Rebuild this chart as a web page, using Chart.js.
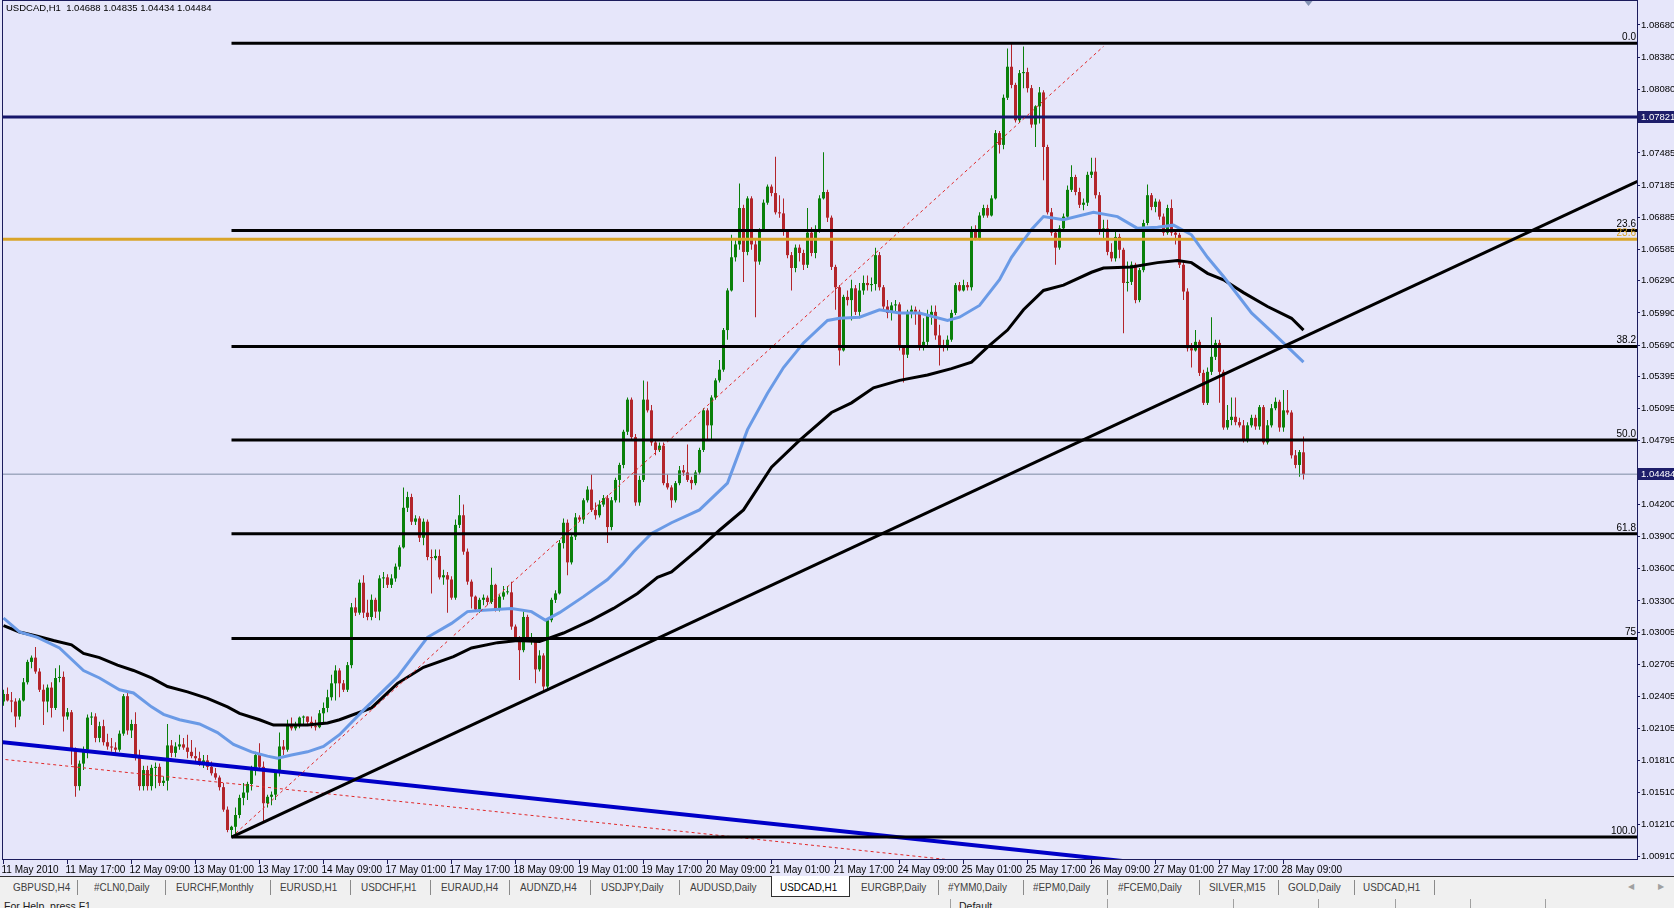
<!DOCTYPE html>
<html><head><meta charset="utf-8">
<script src="https://cdn.jsdelivr.net/npm/chart.js@4.4.1/dist/chart.umd.min.js"></script>
<style>
html,body{margin:0;padding:0;width:1674px;height:908px;overflow:hidden;background:#e6e6fa;font-family:'Liberation Sans',Arial,sans-serif;}
#wrap{position:absolute;left:0;top:0;width:1674px;height:877px;}
#hdr{position:absolute;left:6px;top:2px;font-size:9.5px;color:#000;white-space:pre;}
#tabs{position:absolute;left:0;top:876px;width:1674px;height:22px;background:#f0f0f0;border-top:1px solid #303030;box-sizing:border-box;}
.tab{position:absolute;top:4px;font-size:11px;color:#404040;white-space:pre;transform:scaleX(0.9);transform-origin:0 0;}
.sep{position:absolute;top:3px;width:1px;height:15px;background:#8a8a8a;}
#active{position:absolute;top:-1px;height:21px;background:#fff;border:1px solid #303030;border-top:none;box-sizing:border-box;}
.arr{position:absolute;top:5px;font-size:8px;color:#a0a0a0;}
#status{position:absolute;left:0;top:898px;width:1674px;height:10px;background:#f0f0f0;overflow:hidden;}
.st{position:absolute;top:2px;font-size:10.5px;color:#202020;white-space:pre;}
.stsep{position:absolute;top:1px;width:1px;height:9px;background:#a0a0a0;}
</style></head><body>
<div id="wrap"><canvas id="c" width="1674" height="877"></canvas></div>
<div id="hdr">USDCAD,H1  1.04688 1.04835 1.04434 1.04484</div>
<div id="tabs"></div>
<div id="status"></div>
<script>
// ---------- DATA ----------
const xLabels = ["11 May 2010","11 May 17:00","12 May 09:00","13 May 01:00","13 May 17:00","14 May 09:00","17 May 01:00","17 May 17:00","18 May 09:00","19 May 01:00","19 May 17:00","20 May 09:00","21 May 01:00","21 May 17:00","24 May 09:00","25 May 01:00","25 May 17:00","26 May 09:00","27 May 01:00","27 May 17:00","28 May 09:00"];
const xTickIdx = [0,16,32,48,64,80,96,112,128,144,160,176,192,208,224,240,256,272,288,304,320];
const yTicks = [1.0868,1.0838,1.0808,1.07485,1.07185,1.06885,1.06585,1.0629,1.0599,1.0569,1.05395,1.05095,1.04795,1.042,1.039,1.036,1.033,1.03005,1.02705,1.02405,1.02105,1.0181,1.0151,1.0121,1.0091];

const opens = [
1.0236,1.0243,1.0237,1.0236,1.0222,1.0237,1.0254,1.0273,1.0277,1.0264,1.0247,1.0236,1.0249,1.0230,1.0258,1.0259,1.0222,1.0226,1.0191,1.0157,
1.0178,1.0191,1.0221,1.0222,1.0202,1.0213,1.0198,1.0194,1.0193,1.0191,1.0206,1.0241,1.0209,1.0215,1.0185,1.0157,1.0172,1.0157,1.0174,1.0175,
1.0160,1.0162,1.0195,1.0188,1.0194,1.0196,1.0193,1.0189,1.0185,1.0183,1.0178,1.0181,1.0175,1.0169,1.0165,1.0156,1.0135,1.0116,1.0119,1.0130,
1.0146,1.0151,1.0159,1.0172,1.0186,1.0175,1.0141,1.0147,1.0149,1.0170,1.0194,1.0191,1.0214,1.0211,1.0213,1.0221,1.0222,1.0217,1.0213,1.0212,
1.0225,1.0230,1.0240,1.0253,1.0265,1.0253,1.0247,1.0270,1.0324,1.0319,1.0347,1.0319,1.0315,1.0331,1.0320,1.0351,1.0352,1.0345,1.0351,1.0362,
1.0380,1.0417,1.0427,1.0404,1.0407,1.0389,1.0404,1.0371,1.0370,1.0372,1.0352,1.0354,1.0350,1.0333,1.0401,1.0410,1.0376,1.0348,1.0334,1.0322,
1.0331,1.0333,1.0329,1.0345,1.0322,1.0334,1.0338,1.0338,1.0306,1.0294,1.0284,1.0315,1.0294,1.0294,1.0266,1.0279,1.0250,1.0312,1.0331,1.0337,
1.0384,1.0403,1.0366,1.0390,1.0408,1.0406,1.0424,1.0434,1.0415,1.0410,1.0420,1.0426,1.0399,1.0424,1.0443,1.0457,1.0488,1.0518,1.0483,1.0422,
1.0443,1.0518,1.0508,1.0478,1.0471,1.0475,1.0440,1.0436,1.0424,1.0440,1.0452,1.0450,1.0443,1.0440,1.0450,1.0471,1.0508,1.0494,1.0520,1.0536,
1.0546,1.0583,1.0620,1.0651,1.0663,1.0697,1.0656,1.0706,1.0663,1.0647,1.0677,1.0702,1.0717,1.0711,1.0693,1.0692,1.0675,1.0653,1.0641,1.0660,
1.0655,1.0644,1.0674,1.0655,1.0677,1.0706,1.0712,1.0688,1.0642,1.0623,1.0564,1.0614,1.0611,1.0622,1.0600,1.0620,1.0627,1.0625,1.0626,1.0653,
1.0623,1.0605,1.0599,1.0606,1.0607,1.0567,1.0560,1.0600,1.0602,1.0600,1.0567,1.0572,1.0597,1.0600,1.0578,1.0569,1.0567,1.0574,1.0599,1.0625,
1.0620,1.0625,1.0623,1.0677,1.0669,1.0690,1.0697,1.0690,1.0706,1.0767,1.0756,1.0800,1.0829,1.0812,1.0779,1.0823,1.0824,1.0809,1.0775,1.0792,
1.0805,1.0754,1.0693,1.0674,1.0660,1.0678,1.0689,1.0714,1.0726,1.0712,1.0700,1.0702,1.0728,1.0731,1.0709,1.0675,1.0678,1.0656,1.0650,1.0670,
1.0658,1.0627,1.0628,1.0644,1.0611,1.0639,1.0683,1.0709,1.0698,1.0703,1.0689,1.0674,1.0697,1.0674,1.0672,1.0644,1.0619,1.0566,1.0564,1.0572,
1.0543,1.0515,1.0544,1.0558,1.0571,1.0544,1.0492,1.0499,1.0502,1.0497,1.0494,1.0480,1.0494,1.0501,1.0493,1.0511,1.0478,1.0494,1.0510,1.0516,
1.0492,1.0508,1.0506,1.0466,1.0457,1.04688];
const highs = [
1.0247,1.0249,1.0245,1.0239,1.0239,1.0258,1.0275,1.0279,1.0287,1.0267,1.0252,1.0252,1.0254,1.0267,1.0270,1.0264,1.0230,1.0228,1.0193,1.0181,
1.0194,1.0224,1.0226,1.0225,1.0217,1.0219,1.0206,1.0202,1.0198,1.0209,1.0243,1.0245,1.0219,1.0226,1.0191,1.0176,1.0176,1.0177,1.0179,1.0178,
1.0166,1.0215,1.0200,1.0198,1.0205,1.0202,1.0205,1.0200,1.0193,1.0189,1.0186,1.0186,1.0180,1.0174,1.0167,1.0160,1.0138,1.0120,1.0137,1.0149,
1.0160,1.0161,1.0176,1.0189,1.0197,1.0180,1.0149,1.0152,1.0172,1.0207,1.0200,1.0219,1.0221,1.0217,1.0222,1.0223,1.0222,1.0222,1.0219,1.0228,
1.0235,1.0247,1.0261,1.0270,1.0267,1.0256,1.0273,1.0328,1.0333,1.0350,1.0354,1.0331,1.0336,1.0333,1.0354,1.0357,1.0355,1.0355,1.0365,1.0382,
1.0436,1.0432,1.0430,1.0410,1.0409,1.0407,1.0406,1.0378,1.0378,1.0378,1.0359,1.0357,1.0353,1.0406,1.0429,1.0420,1.0379,1.0350,1.0335,1.0333,
1.0336,1.0335,1.0361,1.0346,1.0336,1.0344,1.0344,1.0348,1.0308,1.0297,1.0320,1.0317,1.0300,1.0295,1.0284,1.0281,1.0314,1.0333,1.0340,1.0387,
1.0407,1.0406,1.0393,1.0412,1.0410,1.0426,1.0437,1.0448,1.0422,1.0424,1.0429,1.0429,1.0427,1.0445,1.0459,1.0490,1.0520,1.0520,1.0486,1.0447,
1.0536,1.0535,1.0513,1.0480,1.0478,1.0478,1.0448,1.0438,1.0442,1.0456,1.0457,1.0476,1.0446,1.0452,1.0473,1.0510,1.0510,1.0522,1.0538,1.0555,
1.0585,1.0622,1.0672,1.0669,1.0720,1.0700,1.0708,1.0708,1.0669,1.0678,1.0705,1.0719,1.0719,1.0745,1.0709,1.0706,1.0677,1.0656,1.0663,1.0663,
1.0658,1.0697,1.0679,1.0681,1.0709,1.0749,1.0714,1.0690,1.0644,1.0625,1.0616,1.0620,1.0630,1.0625,1.0627,1.0634,1.0634,1.0632,1.0660,1.0656,
1.0625,1.0611,1.0609,1.0611,1.0609,1.0569,1.0602,1.0606,1.0605,1.0602,1.0594,1.0602,1.0606,1.0606,1.0588,1.0574,1.0578,1.0602,1.0627,1.0628,
1.0630,1.0628,1.0680,1.0681,1.0693,1.0700,1.0700,1.0709,1.0770,1.0769,1.0803,1.0846,1.0851,1.0814,1.0826,1.0848,1.0828,1.0812,1.0793,1.0810,
1.0807,1.0756,1.0697,1.0675,1.0681,1.0692,1.0718,1.0737,1.0728,1.0716,1.0706,1.0731,1.0744,1.0744,1.0712,1.0686,1.0686,1.0664,1.0675,1.0673,
1.0660,1.0647,1.0647,1.0646,1.0641,1.0686,1.0719,1.0711,1.0706,1.0705,1.0692,1.0700,1.0705,1.0677,1.0674,1.0647,1.0622,1.0571,1.0583,1.0574,
1.0546,1.0548,1.0595,1.0574,1.0574,1.0546,1.0513,1.0520,1.0520,1.0501,1.0499,1.0497,1.0504,1.0504,1.0513,1.0513,1.0499,1.0514,1.0520,1.0518,
1.0527,1.0527,1.0508,1.0471,1.0471,1.04835];
const lows = [
1.0232,1.0236,1.0226,1.0212,1.0219,1.0236,1.0252,1.0267,1.0262,1.0245,1.0214,1.0226,1.0221,1.0228,1.0254,1.0208,1.0219,1.0177,1.0147,1.0153,
1.0172,1.0183,1.0214,1.0198,1.0198,1.0195,1.0191,1.0189,1.0186,1.0189,1.0204,1.0205,1.0202,1.0181,1.0153,1.0153,1.0153,1.0153,1.0155,1.0157,
1.0157,1.0153,1.0184,1.0184,1.0191,1.0191,1.0183,1.0183,1.0180,1.0176,1.0174,1.0172,1.0167,1.0163,1.0153,1.0133,1.0114,1.0109,1.0111,1.0127,
1.0139,1.0144,1.0153,1.0167,1.0172,1.0123,1.0137,1.0139,1.0144,1.0166,1.0186,1.0189,1.0209,1.0209,1.0211,1.0215,1.0215,1.0211,1.0209,1.0211,
1.0216,1.0226,1.0237,1.0237,1.0240,1.0245,1.0245,1.0267,1.0316,1.0317,1.0314,1.0312,1.0312,1.0314,1.0312,1.0342,1.0342,1.0342,1.0348,1.0359,
1.0379,1.0413,1.0401,1.0401,1.0385,1.0382,1.0368,1.0337,1.0368,1.0350,1.0345,1.0319,1.0331,1.0331,1.0398,1.0373,1.0345,1.0323,1.0320,1.0319,
1.0326,1.0326,1.0327,1.0320,1.0320,1.0331,1.0336,1.0303,1.0292,1.0256,1.0282,1.0292,1.0289,1.0253,1.0264,1.0245,1.0247,1.0310,1.0328,1.0336,
1.0379,1.0354,1.0364,1.0387,1.0404,1.0402,1.0422,1.0413,1.0406,1.0408,1.0418,1.0384,1.0396,1.0422,1.0422,1.0454,1.0485,1.0480,1.0419,1.0419,
1.0441,1.0506,1.0475,1.0466,1.0469,1.0438,1.0434,1.0417,1.0422,1.0438,1.0447,1.0441,1.0434,1.0438,1.0448,1.0469,1.0480,1.0480,1.0518,1.0534,
1.0544,1.0574,1.0619,1.0647,1.0658,1.0628,1.0653,1.0658,1.0595,1.0644,1.0675,1.0700,1.0708,1.0691,1.0688,1.0671,1.0650,1.0620,1.0637,1.0647,
1.0639,1.0641,1.0652,1.0650,1.0674,1.0705,1.0684,1.0639,1.0602,1.0550,1.0563,1.0606,1.0592,1.0597,1.0594,1.0616,1.0620,1.0619,1.0620,1.0620,
1.0602,1.0594,1.0592,1.0600,1.0564,1.0534,1.0557,1.0594,1.0588,1.0564,1.0564,1.0569,1.0588,1.0574,1.0550,1.0563,1.0564,1.0572,1.0597,1.0619,
1.0619,1.0620,1.0620,1.0667,1.0667,1.0688,1.0688,1.0689,1.0705,1.0748,1.0752,1.0798,1.0809,1.0777,1.0777,1.0809,1.0805,1.0772,1.0754,1.0776,
1.0723,1.0691,1.0671,1.0644,1.0658,1.0675,1.0686,1.0712,1.0709,1.0697,1.0695,1.0699,1.0725,1.0706,1.0672,1.0669,1.0653,1.0647,1.0647,1.0650,
1.0580,1.0619,1.0625,1.0608,1.0609,1.0637,1.0681,1.0695,1.0693,1.0686,1.0671,1.0672,1.0671,1.0663,1.0641,1.0611,1.0563,1.0548,1.0563,1.0540,
1.0513,1.0513,1.0541,1.0555,1.0515,1.0490,1.0490,1.0494,1.0494,1.0492,1.0478,1.0478,1.0492,1.0490,1.0490,1.0476,1.0476,1.0492,1.0508,1.0488,
1.0488,1.0504,1.0463,1.0454,1.0446,1.04434];
const closes = [
1.0243,1.0237,1.0236,1.0222,1.0237,1.0254,1.0273,1.0277,1.0264,1.0247,1.0236,1.0249,1.0230,1.0258,1.0259,1.0222,1.0226,1.0191,1.0157,1.0178,
1.0191,1.0221,1.0222,1.0202,1.0213,1.0198,1.0194,1.0193,1.0191,1.0206,1.0241,1.0209,1.0215,1.0185,1.0157,1.0172,1.0157,1.0174,1.0175,1.0160,
1.0162,1.0195,1.0188,1.0194,1.0196,1.0193,1.0189,1.0185,1.0183,1.0178,1.0181,1.0175,1.0169,1.0165,1.0156,1.0135,1.0116,1.0119,1.0130,1.0146,
1.0151,1.0159,1.0172,1.0186,1.0175,1.0141,1.0147,1.0149,1.0170,1.0194,1.0191,1.0214,1.0211,1.0213,1.0221,1.0222,1.0217,1.0213,1.0212,1.0225,
1.0230,1.0240,1.0253,1.0265,1.0253,1.0247,1.0270,1.0324,1.0319,1.0347,1.0319,1.0315,1.0331,1.0320,1.0351,1.0352,1.0345,1.0351,1.0362,1.0380,
1.0417,1.0427,1.0404,1.0407,1.0389,1.0404,1.0371,1.0370,1.0372,1.0352,1.0354,1.0350,1.0333,1.0401,1.0410,1.0376,1.0348,1.0334,1.0322,1.0331,
1.0333,1.0329,1.0345,1.0322,1.0334,1.0338,1.0338,1.0306,1.0294,1.0284,1.0315,1.0294,1.0294,1.0266,1.0279,1.0250,1.0312,1.0331,1.0337,1.0384,
1.0403,1.0366,1.0390,1.0408,1.0406,1.0424,1.0434,1.0415,1.0410,1.0420,1.0426,1.0399,1.0424,1.0443,1.0457,1.0488,1.0518,1.0483,1.0422,1.0443,
1.0518,1.0508,1.0478,1.0471,1.0475,1.0440,1.0436,1.0424,1.0440,1.0452,1.0450,1.0443,1.0440,1.0450,1.0471,1.0508,1.0494,1.0520,1.0536,1.0546,
1.0583,1.0620,1.0651,1.0663,1.0697,1.0656,1.0706,1.0663,1.0647,1.0677,1.0702,1.0717,1.0711,1.0693,1.0692,1.0675,1.0653,1.0641,1.0660,1.0655,
1.0644,1.0674,1.0655,1.0677,1.0706,1.0712,1.0688,1.0642,1.0623,1.0564,1.0614,1.0611,1.0622,1.0600,1.0620,1.0627,1.0625,1.0626,1.0653,1.0623,
1.0605,1.0599,1.0606,1.0607,1.0567,1.0560,1.0600,1.0602,1.0600,1.0567,1.0572,1.0597,1.0600,1.0578,1.0569,1.0567,1.0574,1.0599,1.0625,1.0620,
1.0625,1.0623,1.0677,1.0669,1.0690,1.0697,1.0690,1.0706,1.0767,1.0756,1.0800,1.0829,1.0812,1.0779,1.0823,1.0824,1.0809,1.0775,1.0792,1.0805,
1.0754,1.0693,1.0674,1.0660,1.0678,1.0689,1.0714,1.0726,1.0712,1.0700,1.0702,1.0728,1.0731,1.0709,1.0675,1.0678,1.0656,1.0650,1.0670,1.0658,
1.0627,1.0628,1.0644,1.0611,1.0639,1.0683,1.0709,1.0698,1.0703,1.0689,1.0674,1.0697,1.0674,1.0672,1.0644,1.0619,1.0566,1.0564,1.0572,1.0543,
1.0515,1.0544,1.0558,1.0571,1.0544,1.0492,1.0499,1.0502,1.0497,1.0494,1.0480,1.0494,1.0501,1.0493,1.0511,1.0478,1.0494,1.0510,1.0516,1.0492,
1.0508,1.0506,1.0466,1.0457,1.0469,1.04484];

// moving averages (bar index, price)
const maFastIdx = [0,4,8.5,14,20,24,29,32.5,37,40,44,49,53.5,57.5,62,66,68.5,72,76,80,84,90,98.5,106,112,116,119,127,132,135.5,139,145,151,155,157.5,162,167,174,181,186,191,195,200,206,209,214,219,224,229,236,239,244,249,252,257,260,265,272.5,278.5,283.5,288.5,292.5,297,301,305,312,317.5,325];
const maFastVal = [1.0314,1.0301,1.0296,1.0286,1.0265,1.0258,1.0247,1.0244,1.0231,1.0224,1.0219,1.0215,1.0207,1.0196,1.0189,1.0185,1.0183,1.0186,1.0189,1.0194,1.0205,1.0228,1.0259,1.0296,1.0309,1.0320,1.0321,1.0323,1.0320,1.0312,1.0319,1.0334,1.0350,1.0365,1.0376,1.0393,1.0403,1.0415,1.0440,1.0490,1.0524,1.0548,1.0571,1.0592,1.0594,1.0595,1.0602,1.0599,1.0599,1.0592,1.0595,1.0606,1.0630,1.0651,1.0677,1.0689,1.0686,1.0693,1.0689,1.0678,1.0679,1.0681,1.0672,1.0651,1.0633,1.0599,1.0580,1.0553];
const maSlowIdx = [0,4,8.5,12.5,17,20,24,28.5,32.5,37,41,46,51,56,59,64,67.5,72,76,81,84,92,98.5,105,112.5,117,123.5,128.5,134,140,147,152.5,158.5,163.5,167,174,179,185,192,199,207,212,217.5,224,231,237,242,246,251,255,260,265,272,275,282,288.5,293.5,297,301,305,310,316,322,325];
const maSlowVal = [1.0307,1.0301,1.0297,1.0293,1.0289,1.0281,1.0277,1.0270,1.0265,1.0258,1.0250,1.0245,1.0239,1.0231,1.0225,1.0219,1.0214,1.0214,1.0214,1.0216,1.0219,1.0230,1.0253,1.0268,1.0278,1.0286,1.0291,1.0293,1.0292,1.0300,1.0312,1.0323,1.0337,1.0352,1.0357,1.0379,1.0396,1.0415,1.0455,1.0480,1.0506,1.0515,1.0529,1.0536,1.0541,1.0547,1.0553,1.0567,1.0583,1.0602,1.0620,1.0625,1.0637,1.0641,1.0642,1.0646,1.0648,1.0646,1.0636,1.0630,1.0618,1.0605,1.0594,1.0583];

// Fibonacci retracement (anchored at bar 57 low)
const fibLevels = [1.08509,1.06759,1.05676,1.04802,1.03927,1.02948,1.01094];
const fibLabels = ["0.0","23.6","38.2","50.0","61.8","75","100.0"];
const fibStartIdx = 57;
const orangeFibLevel = 1.06678, orangeFibLabel = "23.6";
// horizontal lines
const navyLevel = 1.07821;
const bidLevel = 1.04484;
// trend lines: [startIdx, startPrice, endIdx, endPrice]
const trendBlack = [57, 1.01094, 408.5, 1.0722];
const trendRedUp = [57, 1.01094, 275, 1.0848];
const trendRedDown = [-1, 1.01824, 260, 1.00788];
const trendBlue = [-1, 1.01984, 300, 1.0079];

// tabs
const tabNames = ["GBPUSD,H4","#CLN0,Daily","EURCHF,Monthly","EURUSD,H1","USDCHF,H1","EURAUD,H4","AUDNZD,H4","USDJPY,Daily","AUDUSD,Daily","USDCAD,H1","EURGBP,Daily","#YMM0,Daily","#EPM0,Daily","#FCEM0,Daily","SILVER,M15","GOLD,Daily","USDCAD,H1"];
const activeTab = 9;

// ---------- LAYOUT / STYLE ----------
const tabX = [13,94,176,280,361,441,520,601,690,780,861,948,1033,1118,1209,1288,1363];
const sepX = [77,165,270,350,430,509,590,679,938,1023,1107,1199,1278,1354,1434];
const FONT = "'Liberation Sans', Arial, sans-serif";
const AXIS = '#1c1c5c';
const UP = '#0a800a', DN = '#b3252b';
const X_MIN = -0.125, X_MAX = 408.375;
const Y_MIN = 1.00889, Y_MAX = 1.08904;

// tabs DOM
(function(){
  const t = document.getElementById('tabs');
  let h = '';
  h += '<div id="active" style="left:771px;width:79px"></div>';
  tabNames.forEach((n,i)=>{ h += '<div class="tab" style="left:'+tabX[i]+'px;'+(i===activeTab?'color:#000;':'')+'">'+n+'</div>'; });
  sepX.forEach(x=>{ h += '<div class="sep" style="left:'+x+'px"></div>'; });
  h += '<div class="arr" style="left:1628px">&#9664;</div><div class="arr" style="left:1658px">&#9654;</div>';
  t.innerHTML = h;
  const s = document.getElementById('status');
  s.innerHTML = '<div class="st" style="left:4px">For Help, press F1</div><div class="st" style="left:959px">Default</div>'+
    [950,1107,1233,1318,1395,1470,1545].map(x=>'<div class="stsep" style="left:'+x+'px"></div>').join('');
})();

const seg = (a) => [{x:a[0], y:a[1]}, {x:a[2], y:a[3]}];
const hline = (v) => [{x:-2, y:v}, {x:412, y:v}];
const lineDs = (data, color, width, order, dash) => ({type:'line', data, borderColor:color, borderWidth:width, pointRadius:0, tension:0, fill:false, order, borderDash: dash||[], clip:0, borderCapStyle:'butt'});

const candleCol = closes.map((c,i)=> c >= opens[i] ? UP : DN);
const datasets = [
  {type:'bar', data: lows.map((l,i)=>({x:i, y:[l, highs[i]]})), backgroundColor:candleCol, barThickness:1, grouped:false, order:20, inflateAmount:0, borderWidth:0},
  {type:'bar', data: opens.map((o,i)=>({x:i, y:[o, closes[i]]})), backgroundColor:candleCol, barThickness:3, grouped:false, order:19, inflateAmount:0, borderWidth:0, minBarLength:1},
  lineDs(hline(bidLevel), '#7d8aa3', 1, 15),
  lineDs(hline(orangeFibLevel), '#d9a428', 3, 14),
  lineDs(hline(navyLevel), '#16166a', 3, 13),
  lineDs(seg(trendRedDown), '#e02828', 1, 12, [3,3]),
  lineDs(seg(trendBlue), '#0000c8', 4, 11),
  lineDs(maSlowIdx.map((x,i)=>({x, y:maSlowVal[i]})), '#000000', 3, 8),
  lineDs(maFastIdx.map((x,i)=>({x, y:maFastVal[i]})), '#6a9ae6', 3, 7),
  lineDs(seg(trendRedUp), '#e02828', 1, 6, [3,3]),
  lineDs(seg(trendBlack), '#000000', 3, 5)
];
fibLevels.forEach((v,k)=> datasets.push(lineDs([{x:fibStartIdx, y:v},{x:412, y:v}], '#000000', 3, 4)));

const mt4 = {
  id:'mt4',
  afterDatasetsDraw(chart){
    const ctx = chart.ctx, ys = chart.scales.y, ca = chart.chartArea;
    ctx.save();
    ctx.font = '10px ' + FONT;
    ctx.textAlign = 'right'; ctx.textBaseline = 'bottom';
    ctx.fillStyle = '#000';
    fibLevels.forEach((v,k)=>{ ctx.fillText(fibLabels[k], ca.right - 1, ys.getPixelForValue(v) - 1); });
    ctx.fillStyle = '#d9a428';
    ctx.fillText(orangeFibLabel, ca.right - 1, ys.getPixelForValue(orangeFibLevel) - 1);
    ctx.restore();
  },
  afterDraw(chart){
    const ctx = chart.ctx, ys = chart.scales.y, xs = chart.scales.x, ca = chart.chartArea;
    ctx.save();
    ctx.strokeStyle = AXIS; ctx.lineWidth = 1;
    ctx.strokeRect(ca.left - 0.5, ca.top - 0.5, ca.right - ca.left + 1, ca.bottom - ca.top + 1);
    ctx.font = '9.5px ' + FONT; ctx.textAlign = 'left'; ctx.textBaseline = 'middle';
    [navyLevel, bidLevel].forEach(v=>{
      const y = Math.round(ys.getPixelForValue(v));
      ctx.fillStyle = '#1e1e6a';
      ctx.fillRect(ca.right + 1, y - 6, 40, 12);
      ctx.fillStyle = '#ffffff';
      ctx.fillText(v.toFixed(5), ca.right + 4, y);
    });
    const mx = Math.round(xs.getPixelForValue(opens.length)) + 0.5;
    ctx.fillStyle = '#8494b4';
    ctx.beginPath(); ctx.moveTo(mx - 4, ca.top); ctx.lineTo(mx + 4, ca.top); ctx.lineTo(mx, ca.top + 5); ctx.closePath(); ctx.fill();
    ctx.restore();
  }
};

new Chart(document.getElementById('c'), {
  type:'bar',
  data:{ datasets },
  options:{
    responsive:false, animation:false, devicePixelRatio:1, events:[],
    layout:{ padding:{left:3, top:1, right:0, bottom:0} },
    plugins:{ legend:{display:false}, tooltip:{enabled:false}, title:{display:false} },
    scales:{
      x:{ type:'linear', min:X_MIN, max:X_MAX, offset:false, position:'bottom',
        grid:{ drawOnChartArea:false, drawTicks:true, tickLength:5, color:AXIS, offset:false },
        border:{ display:false },
        ticks:{ autoSkip:false, maxRotation:0, minRotation:0, align:'start', labelOffset:-2, padding:0, color:'#000', font:{family:FONT, size:10}, callback:(v,i)=> xLabels[i] },
        afterBuildTicks:(s)=>{ s.ticks = xTickIdx.map(v=>({value:v})); },
        afterFit:(s)=>{ s.height = 18; s.paddingLeft = 0; s.paddingRight = 0; s.paddingTop = 0; s.paddingBottom = 0; }
      },
      y:{ type:'linear', position:'right', min:Y_MIN, max:Y_MAX,
        grid:{ drawOnChartArea:false, drawTicks:true, tickLength:3, color:AXIS },
        border:{ display:false },
        ticks:{ autoSkip:false, padding:1, color:'#000', font:{family:FONT, size:9.5}, callback:(v)=> Number(v).toFixed(5) },
        afterBuildTicks:(s)=>{ s.ticks = yTicks.map(v=>({value:v})); },
        afterFit:(s)=>{ s.width = 37; s.paddingTop = 0; s.paddingBottom = 0; s.paddingLeft = 0; s.paddingRight = 0; }
      }
    }
  },
  plugins:[mt4]
});
</script>
</body></html>
